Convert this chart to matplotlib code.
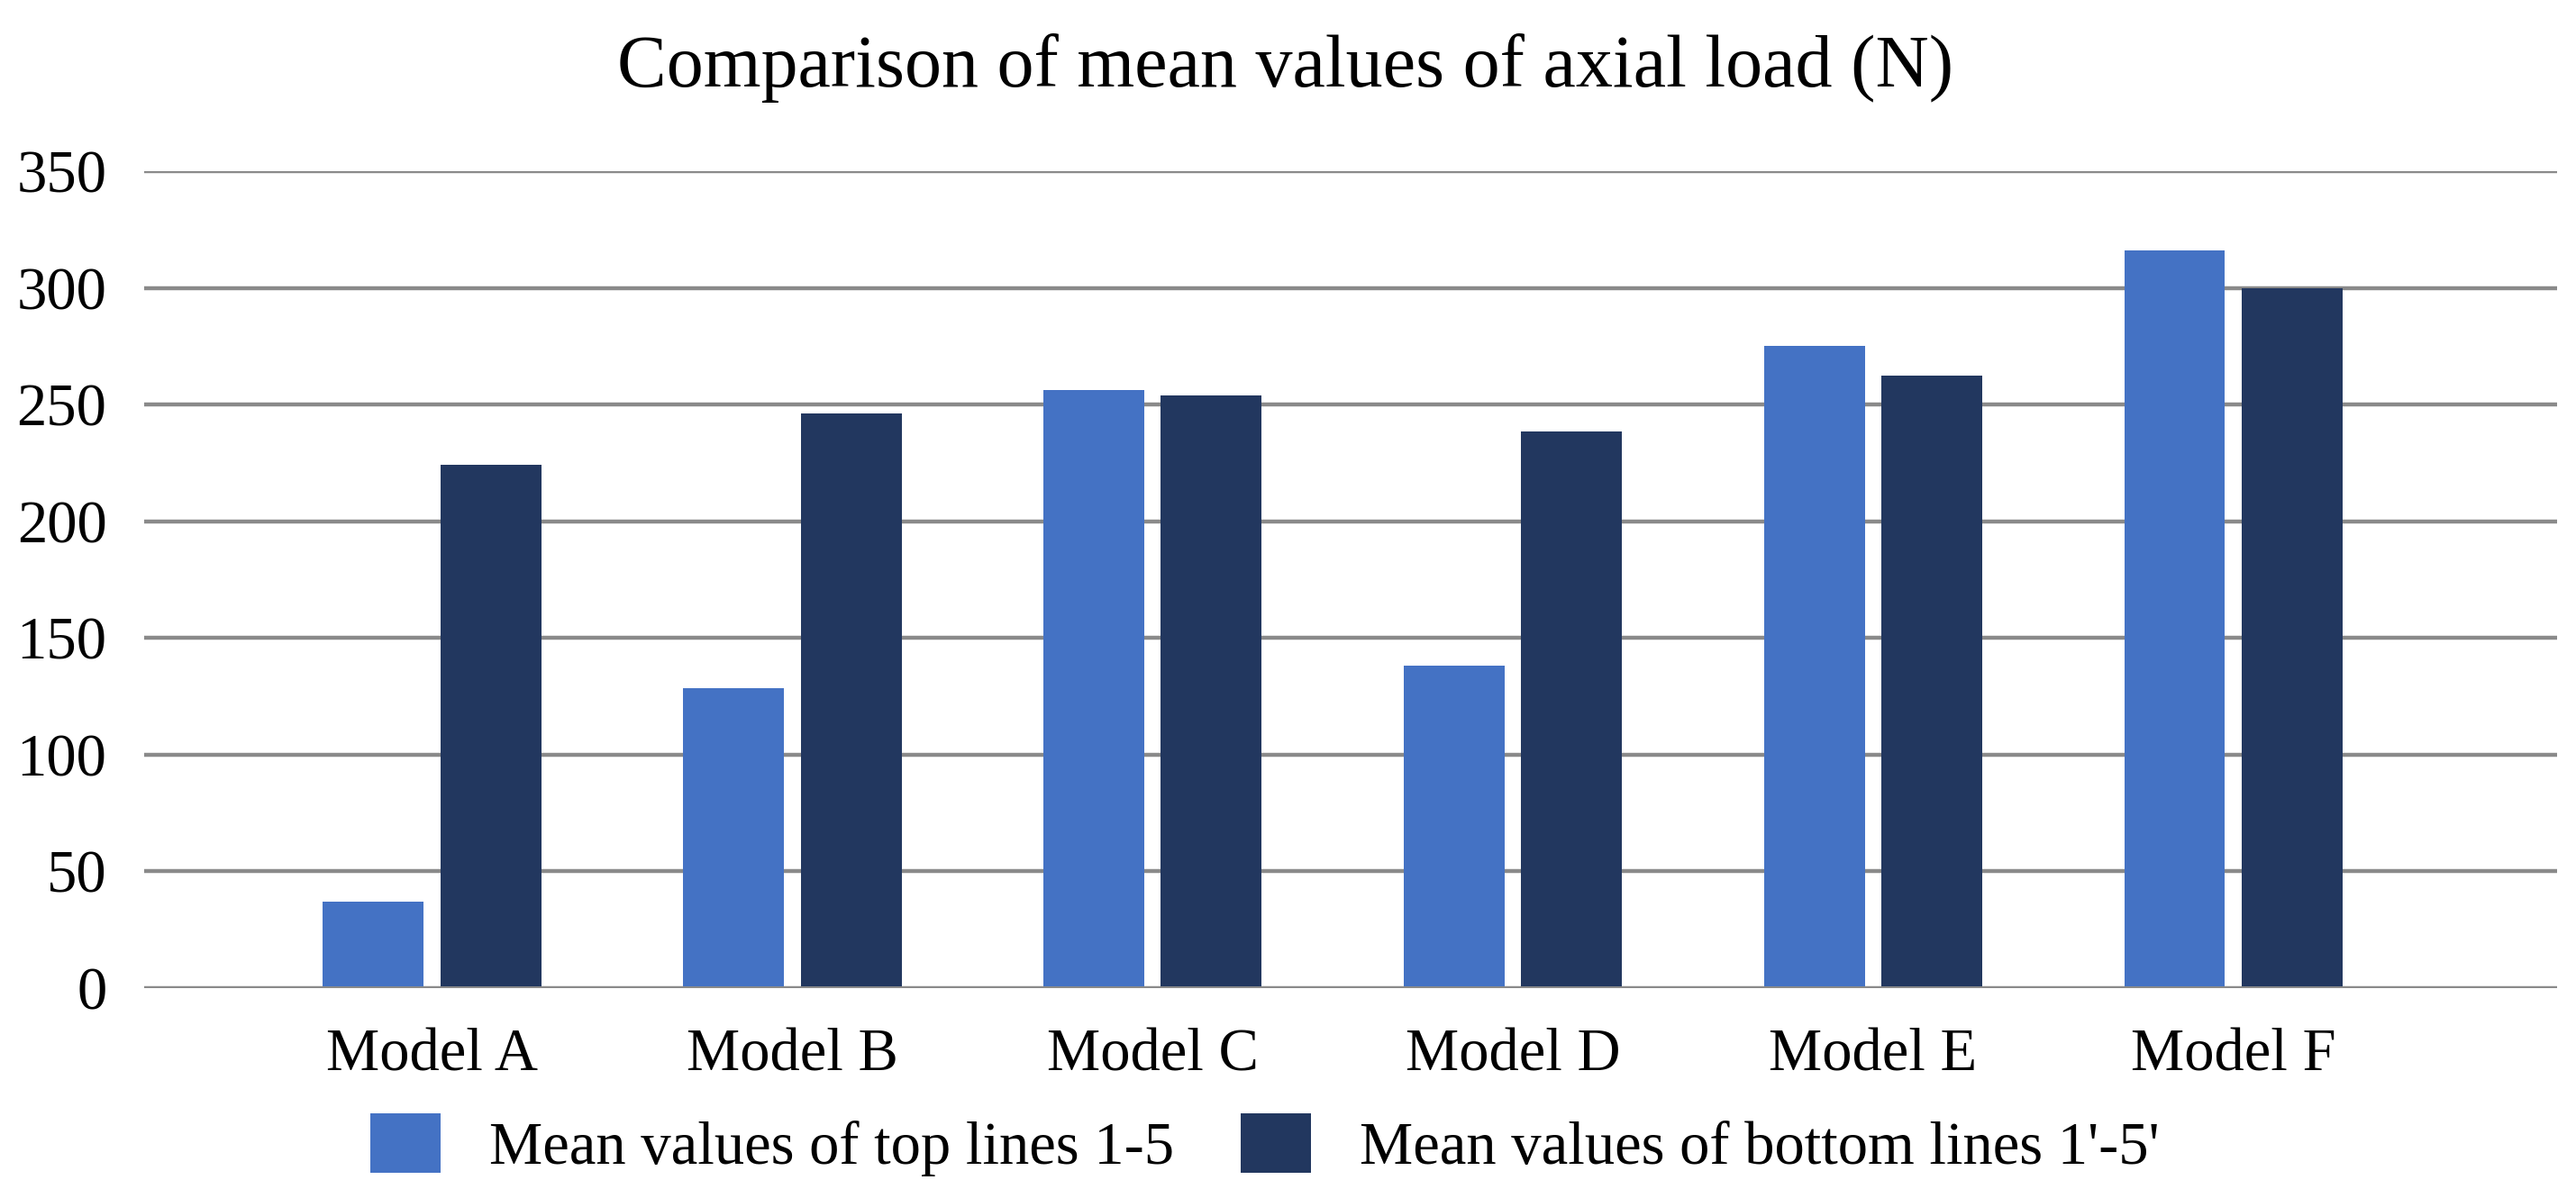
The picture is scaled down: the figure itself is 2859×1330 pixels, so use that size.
import matplotlib
matplotlib.use("Agg")
import matplotlib.pyplot as plt
import numpy as np
from matplotlib.patches import Patch

categories = ["Model A", "Model B", "Model C", "Model D", "Model E", "Model F"]
top_lines = [37, 128.4, 256.4, 138, 275, 316]
bottom_lines = [224.2, 246.1, 253.8, 238.5, 262.5, 300]
series_labels = ["Mean values of top lines 1-5", "Mean values of bottom lines 1'-5'"]
yticks = [0, 50, 100, 150, 200, 250, 300, 350]
title = "Comparison of mean values of axial load (N)"

c_light = "#4472C4"
c_dark = "#22375F"
c_grid = "#8a8a8a"

plt.rcParams['font.family'] = ['Liberation Serif', 'DejaVu Serif']

fig = plt.figure(figsize=(28.59, 13.30), dpi=100)
ax = fig.add_axes([0.056, 0.1752, 0.9367, 0.6819])

x = np.arange(len(categories))
w = 0.28
off = 0.163
ax.bar(x - off, top_lines, width=w, color=c_light, zorder=3)
ax.bar(x + off, bottom_lines, width=w, color=c_dark, zorder=3)

ax.set_xlim(-0.799, 5.899)
ax.set_ylim(0, 350)
ax.set_yticks(yticks)
ax.set_yticklabels([str(v) for v in yticks])
ax.set_xticks(x)
ax.set_xticklabels(categories)
ax.yaxis.grid(True, color=c_grid, linewidth=3.2, zorder=0)
ax.set_axisbelow(True)
for s in ax.spines.values():
    s.set_visible(False)
ax.axhline(0, color=c_grid, linewidth=3.6, zorder=4)
ax.tick_params(axis='both', length=0)
ax.tick_params(axis='y', labelsize=48, pad=30)
ax.tick_params(axis='x', labelsize=48, pad=32)

fig.text(0.499, 0.928, title, ha='center', va='baseline', fontsize=59)

handles = [Patch(facecolor=c_light), Patch(facecolor=c_dark)]
fig.legend(handles, series_labels, loc='center', bbox_to_anchor=(0.491, 0.0444),
           ncol=2, frameon=False, fontsize=48, handlelength=1.18, handleheight=1.14,
           handletextpad=0.81, columnspacing=1.1)

fig.savefig("out.png", dpi=100, facecolor="white")
